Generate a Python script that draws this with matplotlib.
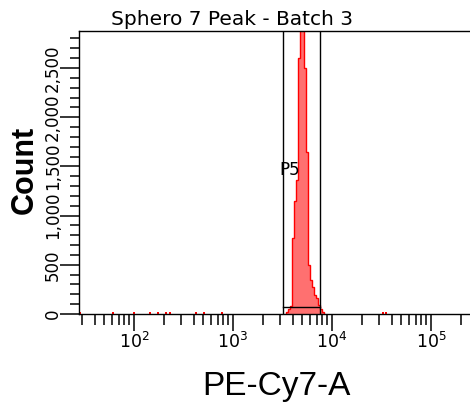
import matplotlib
matplotlib.use('Agg')
import matplotlib.pyplot as plt
import numpy as np
from matplotlib.ticker import FixedLocator, FuncFormatter, LogLocator, NullFormatter

# histogram of the peak (log10 bin edges, counts per bin)
bin_edges_log = [3.54, 3.56, 3.58, 3.60, 3.62, 3.64, 3.66, 3.68, 3.70, 3.72, 3.74,
                 3.76, 3.78, 3.80, 3.82, 3.84, 3.86, 3.88, 3.90, 3.92]
counts = [20, 50, 80, 770, 1150, 1360, 2600, 2950, 3000, 2500, 1650,
          500, 345, 275, 190, 160, 90, 50, 20]

# stray events along the baseline
stray_values = [28.5, 61, 100, 145, 175, 210, 231, 423, 509, 774, 32700, 35100]
stray_count = 25

# gate P5
gate_low = 3175
gate_high = 7620
gate_level = 75
gate_name = 'P5'

title = 'Sphero 7 Peak - Batch 3'
x_label = 'PE-Cy7-A'
y_label = 'Count'

fill_color = '#ff7070'
edge_color = '#ff0000'

fig = plt.figure(figsize=(4.7, 4.12), dpi=100)
ax = fig.add_axes([79 / 470, 98 / 412, 393.4 / 470, 283 / 412])

edges = 10 ** np.array(bin_edges_log)
ax.stairs(counts, edges, fill=True, color=fill_color, zorder=1)
ax.stairs(counts, edges, color=edge_color, linewidth=1.0, zorder=1.5)

for v in stray_values:
    ax.stairs([stray_count], [v / 1.02, v * 1.02], fill=True, color=edge_color, zorder=1)

# gate
ax.axvline(gate_low, color='black', linewidth=1.0, zorder=3)
ax.axvline(gate_high, color='black', linewidth=1.0, zorder=3)
ax.plot([gate_low, gate_high], [gate_level, gate_level], color='black', linewidth=1.0, zorder=3)
ax.text(3725, 1463, gate_name, ha='center', va='center', fontsize=12, color='black', zorder=4)

ax.set_xscale('log')
ax.set_xlim(27.8, 262144)
ax.set_ylim(0, 2876)

ax.xaxis.set_major_locator(FixedLocator([1e2, 1e3, 1e4, 1e5]))
ax.xaxis.set_major_formatter(FuncFormatter(lambda v, p: r'$10^{%d}$' % round(np.log10(v))))
ax.xaxis.set_minor_locator(LogLocator(base=10, subs=np.arange(2, 10)))
ax.xaxis.set_minor_formatter(NullFormatter())

ax.yaxis.set_major_locator(FixedLocator([0, 500, 1000, 1500, 2000, 2500]))
ax.yaxis.set_major_formatter(FuncFormatter(lambda v, p: '{:,}'.format(int(v))))
ax.yaxis.set_minor_locator(FixedLocator(np.arange(0, 2801, 100)))

ax.tick_params(axis='x', which='major', length=12, width=1.1, labelsize=12.5, pad=1)
ax.tick_params(axis='x', which='minor', length=8, width=1.1)
ax.tick_params(axis='y', which='major', length=13.5, width=1.1, labelsize=12, pad=-1)
ax.tick_params(axis='y', which='minor', length=6.5, width=1.1)
for lab in ax.get_yticklabels():
    lab.set_rotation(90)
    lab.set_va('center')

for s in ax.spines.values():
    s.set_linewidth(1.0)

fig.text(232 / 470, 1 - 25 / 412, title, ha='center', va='baseline', fontsize=14.5)
fig.text(25 / 470, 1 - 170 / 412, y_label, rotation=90, ha='center', va='center',
         fontsize=22, fontweight='bold', family='Liberation Sans')
fig.text(276 / 470, 1 - 386 / 412, x_label, ha='center', va='center',
         fontsize=24, family='Liberation Sans')

fig.savefig('out.png', dpi=100)
